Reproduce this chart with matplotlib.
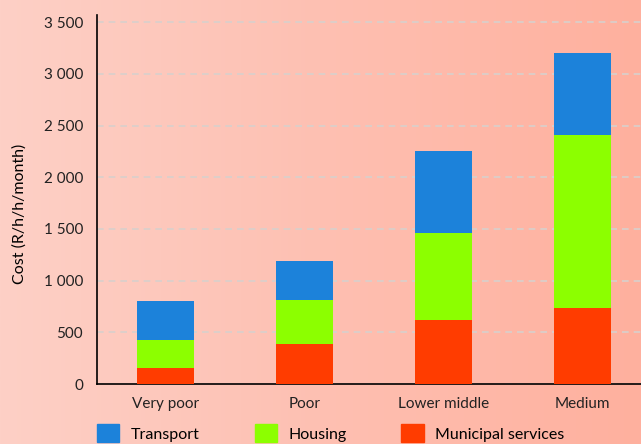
import numpy as np
import matplotlib.pyplot as plt
from matplotlib.patches import Patch
from matplotlib.ticker import FuncFormatter

categories = ['Very poor', 'Poor', 'Lower middle', 'Medium']
municipal = [155, 390, 620, 735]
housing = [270, 420, 840, 1670]
transport = [378, 380, 790, 795]

c_mun = '#ff3c00'
c_hou = '#8cff00'
c_tra = '#1c82da'

plt.rcParams['font.family'] = ['Lato', 'DejaVu Sans']

fig = plt.figure(figsize=(6.41, 4.44), dpi=100)

# background gradient
bg = fig.add_axes([0, 0, 1, 1], zorder=-10)
grad = np.linspace(0, 1, 256).reshape(1, -1)
left = np.array([253, 208, 198]) / 255
right = np.array([255, 176, 158]) / 255
img = left[None, None, :] * (1 - grad[..., None]) + right[None, None, :] * grad[..., None]
bg.imshow(img, aspect='auto', extent=[0, 1, 0, 1])
bg.axis('off')

ax = fig.add_axes([97 / 641, 60 / 444, 544 / 641, 369 / 444])
ax.patch.set_alpha(0)

x = np.arange(len(categories))
w = 0.41
ax.bar(x, municipal, w, color=c_mun, zorder=3)
ax.bar(x, housing, w, bottom=municipal, color=c_hou, zorder=3)
bottom2 = [a + b for a, b in zip(municipal, housing)]
ax.bar(x, transport, w, bottom=bottom2, color=c_tra, zorder=3)

ax.set_xlim(-0.496, 3.42)
ax.set_ylim(0, 3570)
ax.set_yticks(range(0, 3501, 500))
ax.yaxis.set_major_formatter(FuncFormatter(lambda v, p: f'{int(v):,}'.replace(',', ' ')))
ax.set_xticks(x)
ax.set_xticklabels(categories)
ax.tick_params(length=0, labelsize=11, colors='#222222')
ax.tick_params(axis='x', pad=9)
ax.tick_params(axis='y', pad=10)
ax.grid(axis='y', color='#d8d0cc', linestyle=(0, (4, 3)), linewidth=1.2, zorder=0)
ax.spines['top'].set_visible(False)
ax.spines['right'].set_visible(False)
ax.spines['left'].set_linewidth(1.2)
ax.spines['bottom'].set_linewidth(1.2)
ax.set_ylabel('Cost (R/h/h/month)', fontsize=11.5, labelpad=12, y=0.46)

handles = [Patch(color=c_tra), Patch(color=c_hou), Patch(color=c_mun)]
fig.legend(handles, ['Transport', 'Housing', 'Municipal services'],
           loc='upper left', bbox_to_anchor=(97 / 641, 1 - 424 / 444), ncol=3,
           frameon=False, fontsize=11.5, handlelength=1.4, handleheight=1.4,
           columnspacing=3.45, handletextpad=0.7, borderpad=0, borderaxespad=0)

plt.savefig('out.png', dpi=100)
